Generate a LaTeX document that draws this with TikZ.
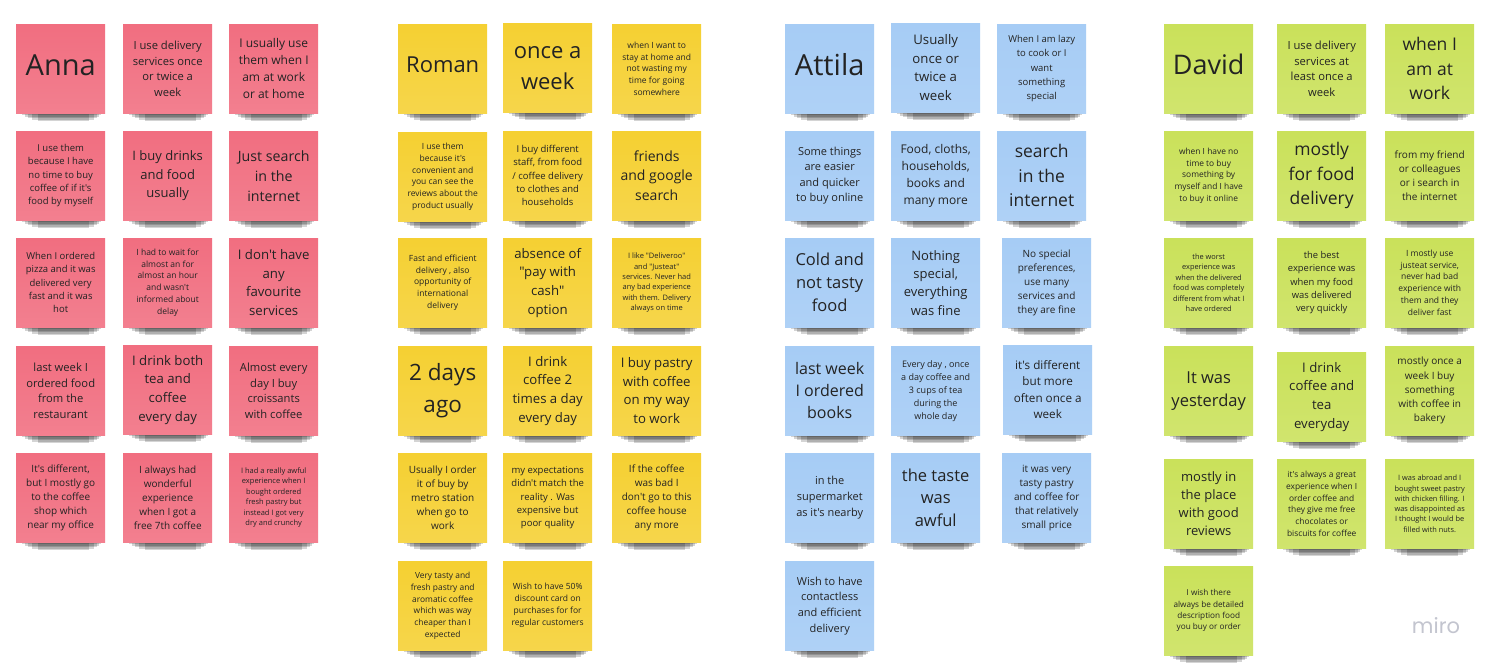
\documentclass[tikz,border=0pt]{standalone}
\usepackage{fontspec}
\setmainfont{Open Sans}[Ligatures=TeXOff]
\newfontfamily\logofont{Poppins}

\pgfdeclarelayer{bglayer}
\pgfdeclarelayer{shadowlayer}
\pgfsetlayers{bglayer,shadowlayer,main}

\definecolor{pinkc}{RGB}{241,110,128}
\definecolor{yellowc}{RGB}{245,208,50}
\definecolor{bluec}{RGB}{166,204,245}
\definecolor{greenc}{RGB}{202,225,90}
\definecolor{inkc}{RGB}{35,35,35}
\definecolor{logoc}{RGB}{195,197,207}

\tikzset{
  note/.style={anchor=north west, minimum width=89pt, minimum height=89pt,
    inner sep=2pt, align=center, text=inkc},
  pinknote/.style={note, top color=pinkc, bottom color=pinkc!88!white},
  yellownote/.style={note, top color=yellowc, bottom color=yellowc!88!white},
  bluenote/.style={note, top color=bluec, bottom color=bluec!90!white},
  greennote/.style={note, top color=greenc, bottom color=greenc!88!white},
  fs/.style 2 args={font=\fontsize{#1}{#2}\selectfont},
  who/.style={text depth=8pt},
  noteshadow/.style={black, fill opacity=0.17}
}

\begin{document}
\begin{tikzpicture}[x=1pt, y=-1pt]
\begin{pgfonlayer}{bglayer}
\path[use as bounding box, fill=white] (0,0) rectangle (1495,668);
\end{pgfonlayer}

% ---------------- Anna ----------------
\node[pinknote, who, fs={29}{36}] (a1) at (16,24) {Anna};
\node[pinknote, fs={11.2}{15.7}] (a2) at (123,24) {I use delivery\\services once\\or twice a\\week};
\node[pinknote, fs={12}{16.9}] (a3) at (229,24) {I usually use\\them when I\\am at work\\or at home};
\node[pinknote, fs={9.5}{13.3}] (a4) at (16,131) {I use them\\because I have\\no time to buy\\coffee of if it's\\food by myself};
\node[pinknote, fs={13}{18.3}] (a5) at (123,131) {I buy drinks\\and food\\usually};
\node[pinknote, fs={14.2}{20}] (a6) at (229,131) {Just search\\in the\\internet};
\node[pinknote, fs={9.5}{13.3}] (a7) at (16,238) {When I ordered\\pizza and it was\\delivered very\\fast and it was\\hot};
\node[pinknote, fs={8.5}{11.9}] (a8) at (123,238) {I had to wait for\\almost an for\\almost an hour\\and wasn't\\informed about\\delay};
\node[pinknote, fs={13.2}{18.6}] (a9) at (229,238) {I don't have\\any\\favourite\\services};
\node[pinknote, fs={11.2}{15.7}] (a10) at (16,346) {last week I\\ordered food\\from the\\restaurant};
\node[pinknote, fs={13.2}{18.6}] (a11) at (123,345) {I drink both\\tea and\\coffee\\every day};
\node[pinknote, fs={11.2}{15.7}] (a12) at (229,346) {Almost every\\day I buy\\croissants\\with coffee};
\node[pinknote, fs={10}{14}] (a13) at (16,453) {It's different,\\but I mostly go\\to the coffee\\shop which\\near my office};
\node[pinknote, fs={10}{14}] (a14) at (123,453) {I always had\\wonderful\\experience\\when I got a\\free 7th coffee};
\node[pinknote, fs={7.5}{10.5}] (a15) at (229,453) {I had a really awful\\experience when I\\bought ordered\\fresh pastry but\\instead I got very\\dry and crunchy};

% ---------------- Roman ----------------
\node[yellownote, who, fs={22}{28}] (r1) at (398,24) {Roman};
\node[yellownote, fs={22}{31}] (r2) at (503,23) {once a\\week};
\node[yellownote, fs={8.5}{11.8}] (r3) at (612,24) {when I want to\\stay at home and\\not wasting my\\time for going\\somewhere};
\node[yellownote, fs={8.5}{11.8}] (r4) at (398,132) {I use them\\because it's\\convenient and\\you can see the\\reviews about the\\product usually};
\node[yellownote, fs={9.5}{13.3}] (r5) at (503,131) {I buy different\\staff, from food\\/ coffee delivery\\to clothes and\\households};
\node[yellownote, fs={14}{19.5}] (r6) at (612,131) {friends\\and google\\search};
\node[yellownote, fs={8.5}{11.7}] (r7) at (398,238) {Fast and efficient\\delivery , also\\opportunity of\\international\\delivery};
\node[yellownote, fs={13.2}{18.6}] (r8) at (503,238) {absence of\\"pay with\\cash"\\option};
\node[yellownote, fs={7.5}{10.3}] (r9) at (612,238) {I like "Deliveroo"\\and "Justeat"\\services. Never had\\any bad experience\\with them. Delivery\\always on time};
\node[yellownote, fs={22.5}{31.7}] (r10) at (398,346) {2 days\\ago};
\node[yellownote, fs={13.2}{18.6}] (r11) at (503,346) {I drink\\coffee 2\\times a day\\every day};
\node[yellownote, fs={13.2}{18.6}] (r12) at (612,346) {I buy pastry\\with coffee\\on my way\\to work};
\node[yellownote, fs={10}{14}] (r13) at (398,453) {Usually I order\\it of buy by\\metro station\\when go to\\work};
\node[yellownote, fs={9.5}{13.3}] (r14) at (503,453) {my expectations\\didn't match the\\reality . Was\\expensive but\\poor quality};
\node[yellownote, fs={10}{14}] (r15) at (612,453) {If the coffee\\was bad I\\don't go to this\\coffee house\\any more};
\node[yellownote, fs={8.4}{11.7}] (r16) at (398,561) {Very tasty and\\fresh pastry and\\aromatic coffee\\which was way\\cheaper than I\\expected};
\node[yellownote, fs={8.5}{12}] (r17) at (503,561) {Wish to have 50\%\\discount card on\\purchases for for\\regular customers};

% ---------------- Attila ----------------
\node[bluenote, who, fs={29}{36}] (t1) at (785,24) {Attila};
\node[bluenote, fs={13.2}{18.6}] (t2) at (891,23) {Usually\\once or\\twice a\\week};
\node[bluenote, fs={9.5}{14.2}] (t3) at (997,24) {When I am lazy\\to cook or I\\want\\something\\special};
\node[bluenote, fs={11}{15.3}] (t4) at (785,131) {Some things\\are easier\\and quicker\\to buy online};
\node[bluenote, fs={12}{17}] (t5) at (891,131) {Food, cloths,\\households,\\books and\\many more};
\node[bluenote, fs={17.5}{24.5}] (t6) at (997,131) {search\\in the\\internet};
\node[bluenote, fs={16.5}{23}] (t7) at (785,238) {Cold and\\not tasty\\food};
\node[bluenote, fs={13}{18.3}] (t8) at (891,238) {Nothing\\special,\\everything\\was fine};
\node[bluenote, fs={10}{14}] (t9) at (1002,238) {No special\\preferences,\\use many\\services and\\they are fine};
\node[bluenote, fs={16}{22.2}] (t10) at (785,346) {last week\\I ordered\\books};
\node[bluenote, fs={9}{13}] (t11) at (891,346) {Every day , once\\a day coffee and\\3 cups of tea\\during the\\whole day};
\node[bluenote, fs={11.7}{16.4}] (t12) at (1003,345) {it's different\\but more\\often once a\\week};
\node[bluenote, fs={11}{15.7}] (t13) at (785,453) {in the\\supermarket\\as it's nearby};
\node[bluenote, fs={16.5}{22.8}] (t14) at (891,453) {the taste\\was\\awful};
\node[bluenote, fs={10}{14}] (t15) at (1002,453) {it was very\\tasty pastry\\and coffee for\\that relatively\\small price};
\node[bluenote, fs={11}{15.7}] (t16) at (785,561) {Wish to have\\contactless\\and efficient\\delivery};

% ---------------- David ----------------
\node[greennote, who, fs={27}{34}] (d1) at (1164,24) {David};
\node[greennote, fs={11.2}{15.7}] (d2) at (1277,24) {I use delivery\\services at\\least once a\\week};
\node[greennote, fs={17.5}{24.3}] (d3) at (1385,24) {when I\\am at\\work};
\node[greennote, fs={8.4}{11.7}] (d4) at (1164,131) {when I have no\\time to buy\\something by\\myself and I have\\to buy it online};
\node[greennote, fs={17.5}{24.5}] (d5) at (1277,131) {mostly\\for food\\delivery};
\node[greennote, fs={10}{14}] (d6) at (1385,131) {from my friend\\or colleagues\\or i search in\\the internet};
\node[greennote, fs={7.4}{10.4}] (d7) at (1164,238) {the worst\\experience was\\when the delivered\\food was completely\\different from what I\\have ordered};
\node[greennote, fs={9.4}{13.2}] (d8) at (1277,238) {the best\\experience was\\when my food\\was delivered\\very quickly};
\node[greennote, fs={8.5}{11.9}] (d9) at (1385,238) {I mostly use\\justeat service,\\never had bad\\experience with\\them and they\\deliver fast};
\node[greennote, fs={16.5}{23}] (d10) at (1164,346) {It was\\yesterday};
\node[greennote, fs={13.2}{18.7}] (d11) at (1277,352) {I drink\\coffee and\\tea\\everyday};
\node[greennote, fs={10}{14.2}] (d12) at (1385,346) {mostly once a\\week I buy\\something\\with coffee in\\bakery};
\node[greennote, fs={13}{18.2}] (d13) at (1164,459) {mostly in\\the place\\with good\\reviews};
\node[greennote, fs={8.4}{11.7}] (d14) at (1277,459) {it's always a great\\experience when I\\order coffee and\\they give me free\\chocolates or\\biscuits for coffee};
\node[greennote, fs={7.4}{10.3}] (d15) at (1385,459) {I was abroad and I\\bought sweet pastry\\with chicken filling. I\\was disappointed as\\I thought I would be\\filled with nuts.};
\node[greennote, fs={8.2}{11.4}] (d16) at (1164,566) {I wish there\\always be detailed\\description food\\you buy or order};

% board watermark
\node[font=\logofont\fontsize{21}{21}\selectfont, text=logoc] (logo) at (1436,626) {miro};

% drop shadows under the notes: translucent bands, the deeper ones
% narrower, so the shade thins out downwards and towards both ends
\begin{pgfonlayer}{shadowlayer}
\foreach \n in {a1,a2,a3,a4,a5,a6,a7,a8,a9,a10,a11,a12,a13,a14,a15,
                r1,r2,r3,r4,r5,r6,r7,r8,r9,r10,r11,r12,r13,r14,r15,r16,r17,
                t1,t2,t3,t4,t5,t6,t7,t8,t9,t10,t11,t12,t13,t14,t15,t16,
                d1,d2,d3,d4,d5,d6,d7,d8,d9,d10,d11,d12,d13,d14,d15,d16}
  \foreach \l/\r/\d in {22/16/8, 16/11/6.5, 12/8/5, 9/6/3.5, 6/4/2}
    \fill[noteshadow] ([xshift=\l pt,yshift=2pt]\n.south west) rectangle ([xshift=-\r pt,yshift=-\d pt]\n.south east);
\end{pgfonlayer}
\end{tikzpicture}
\end{document}
